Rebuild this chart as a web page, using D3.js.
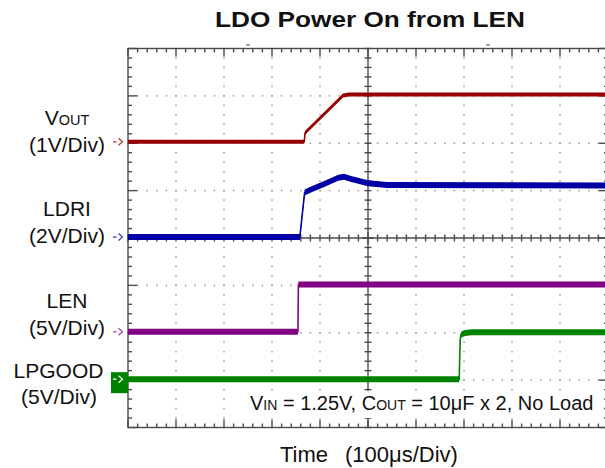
<!DOCTYPE html>
<html>
<head>
<meta charset="utf-8">
<script src="https://cdn.jsdelivr.net/npm/d3@7"></script>
<style>
  body { margin: 0; background: #fff; }
  text { font-family: Arial, "Liberation Sans", sans-serif; fill: #111; }
</style>
</head>
<body>
<svg id="scope"></svg>
<script>
// scope settings
const traceNames = ["VOUT", "LDRI", "LEN", "LPGOOD"];
const voltsPerDiv = [1, 2, 5, 5];
const offsetDiv = [2.03, 0.02, -1.98, -2.98];   // marker position of each channel, in divisions

// traces: [time in µs from trigger, volts]
const vout   = [[-500, 0], [-133, 0], [-131, 0.19], [-52, 0.98], [-40, 1.0], [500, 1.0]];
const ldri   = [[-500, 0], [-142, 0], [-137, 0.95], [-132, 1.88], [-120, 2.0], [-90, 2.25],
                [-62, 2.5], [-50, 2.55], [-35, 2.45], [0, 2.27], [40, 2.2], [500, 2.18]];
const len    = [[-500, 0], [-146, 0], [-145, 5.0], [500, 5.0]];
const lpgood = [[-500, 0], [190, 0], [192, 4.2], [194, 4.7], [200, 4.85], [215, 4.95], [500, 4.95]];

const traces = [vout, ldri, len, lpgood];
const colors = ["#960000", "#0000a4", "#820082", "#008200"];
const markerColors = ["#b03a3a", "#3a3ac8", "#a848a8", "#fff"];
const bandHalf = [2, 3, 3, 3];

const W = 605, H = 468;
const svg = d3.select("#scope").attr("width", W).attr("height", H);

// 10 x 8 divisions, 100µs/div
const x = d3.scaleLinear().domain([-500, 500]).range([128, 608]);
const y = d3.scaleLinear().domain([-4, 4]).range([427.5, 48.5]);

const minorT = d3.range(0, 51).map(i => -500 + i * 20);
const minorD = d3.range(0, 41).map(i => -4 + i * 0.2);
const majorT = d3.range(-500, 501, 100);
const majorD = d3.range(-4, 5, 1);
const isMajorT = t => Math.abs(t % 100) < 1e-6;
const isMajorD = d => Math.abs(d - Math.round(d)) < 1e-6;

// dotted grid
const grid = svg.append("g").attr("fill", "#9a9a9a");
majorT.filter(t => t !== -500 && t !== 0 && t !== 500).forEach(t => {
  minorD.forEach(d => grid.append("rect")
    .attr("x", x(t) - 0.75).attr("y", y(d) - 0.75).attr("width", 1.5).attr("height", 1.5));
});
majorD.filter(d => d !== -4 && d !== 0 && d !== 4).forEach(d => {
  minorT.forEach(t => grid.append("rect")
    .attr("x", x(t) - 0.75).attr("y", y(d) - 0.75).attr("width", 1.5).attr("height", 1.5));
});

// frame, centre axes and ticks
const frame = svg.append("g").attr("stroke", "#4a4a4a").attr("stroke-width", 1.4).attr("fill", "none");
frame.append("rect").attr("x", x(-500)).attr("y", y(4))
  .attr("width", x(500) - x(-500)).attr("height", y(-4) - y(4));
frame.append("line").attr("x1", x(0)).attr("x2", x(0)).attr("y1", y(4)).attr("y2", y(-4));
frame.append("line").attr("x1", x(-500)).attr("x2", x(500)).attr("y1", y(0)).attr("y2", y(0));

minorT.forEach(t => {
  const len = isMajorT(t) ? 8 : 4;
  frame.append("line").attr("x1", x(t)).attr("x2", x(t)).attr("y1", y(4)).attr("y2", y(4) + len);
  frame.append("line").attr("x1", x(t)).attr("x2", x(t)).attr("y1", y(-4)).attr("y2", y(-4) - len);
  const c = t === 0 ? 6 : 3.5;
  frame.append("line").attr("x1", x(t)).attr("x2", x(t)).attr("y1", y(0) - c).attr("y2", y(0) + c);
});
minorD.forEach(d => {
  const len = isMajorD(d) ? 9 : 4;
  frame.append("line").attr("y1", y(d)).attr("y2", y(d)).attr("x1", x(-500)).attr("x2", x(-500) + len);
  frame.append("line").attr("y1", y(d)).attr("y2", y(d)).attr("x1", x(500)).attr("x2", x(500) - len);
  const c = d === 0 ? 6 : 3.5;
  frame.append("line").attr("y1", y(d)).attr("y2", y(d)).attr("x1", x(0) - c).attr("x2", x(0) + c);
});

// small scope markers above the frame
svg.append("g").attr("stroke", "#666").attr("stroke-width", 1.2)
  .selectAll("line").data([-250, 250]).join("line")
  .attr("x1", t => x(t) - 2).attr("x2", t => x(t) + 2).attr("y1", 45).attr("y2", 45);

// condition note sits on a white patch
svg.append("rect").attr("x", 246).attr("y", 391).attr("width", 352).attr("height", 27).attr("fill", "#fff");

// traces
svg.append("clipPath").attr("id", "plotClip").append("rect")
  .attr("x", x(-500)).attr("y", y(4)).attr("width", x(500) - x(-500)).attr("height", y(-4) - y(4));
const plot = svg.append("g").attr("clip-path", "url(#plotClip)");

traces.forEach((data, i) => {
  const py = d => y(offsetDiv[i] + d[1] / voltsPerDiv[i]);
  const band = d3.area()
    .x(d => x(d[0]))
    .y0(d => py(d) + bandHalf[i])
    .y1(d => py(d) - bandHalf[i]);
  const line = d3.line().x(d => x(d[0])).y(py);
  plot.append("path").attr("d", band(data)).attr("fill", colors[i]);
  plot.append("path").attr("d", line(data)).attr("fill", "none")
    .attr("stroke", colors[i]).attr("stroke-width", 1.6);
});

// channel markers
traceNames.forEach((name, i) => {
  const my = y(offsetDiv[i]);
  const g = svg.append("g").attr("fill", "none").attr("stroke", markerColors[i]).attr("stroke-width", 1.3);
  if (name === "LPGOOD") {
    svg.insert("rect", "g:last-child").attr("x", 111).attr("y", my - 7).attr("width", 17).attr("height", 21)
      .attr("fill", colors[i]).attr("stroke", "none");
    g.raise();
  }
  g.append("line").attr("x1", 113).attr("x2", 116.5).attr("y1", my).attr("y2", my);
  g.append("path").attr("d", `M118.5,${my - 3.5} L122.5,${my} L118.5,${my + 3.5}`);
});

// channel labels
const labels = svg.append("g").attr("font-size", 21).attr("text-anchor", "middle");
const vt = labels.append("text").attr("x", 67).attr("y", 125);
vt.append("tspan").text("V");
vt.append("tspan").attr("font-size", 14.5).text("OUT");
labels.append("text").attr("x", 67).attr("y", 151.5).text("(1V/Div)");
labels.append("text").attr("x", 67).attr("y", 215.5).text("LDRI");
labels.append("text").attr("x", 67).attr("y", 242.5).text("(2V/Div)");
labels.append("text").attr("x", 67).attr("y", 307.5).text("LEN");
labels.append("text").attr("x", 67).attr("y", 335).text("(5V/Div)");
labels.append("text").attr("x", 58.5).attr("y", 377.5).text("LPGOOD");
labels.append("text").attr("x", 59).attr("y", 404).text("(5V/Div)");

// title
svg.append("text").attr("x", 370).attr("y", 27).attr("text-anchor", "middle")
  .attr("font-size", 22).attr("font-weight", "bold")
  .attr("textLength", 310).attr("lengthAdjust", "spacingAndGlyphs")
  .text("LDO Power On from LEN");

// test conditions
const note = svg.append("text").attr("x", 250).attr("y", 410).attr("font-size", 20);
note.append("tspan").text("V");
note.append("tspan").attr("font-size", 14).text("IN");
note.append("tspan").text(" = 1.25V, C");
note.append("tspan").attr("font-size", 14).text("OUT");
note.append("tspan").text(" = 10μF x 2, No Load");

// x label
svg.append("text").attr("x", 280).attr("y", 461.5).attr("font-size", 22).text("Time");
svg.append("text").attr("x", 345).attr("y", 461.5).attr("font-size", 22).text("(100μs/Div)");
</script>
</body>
</html>
